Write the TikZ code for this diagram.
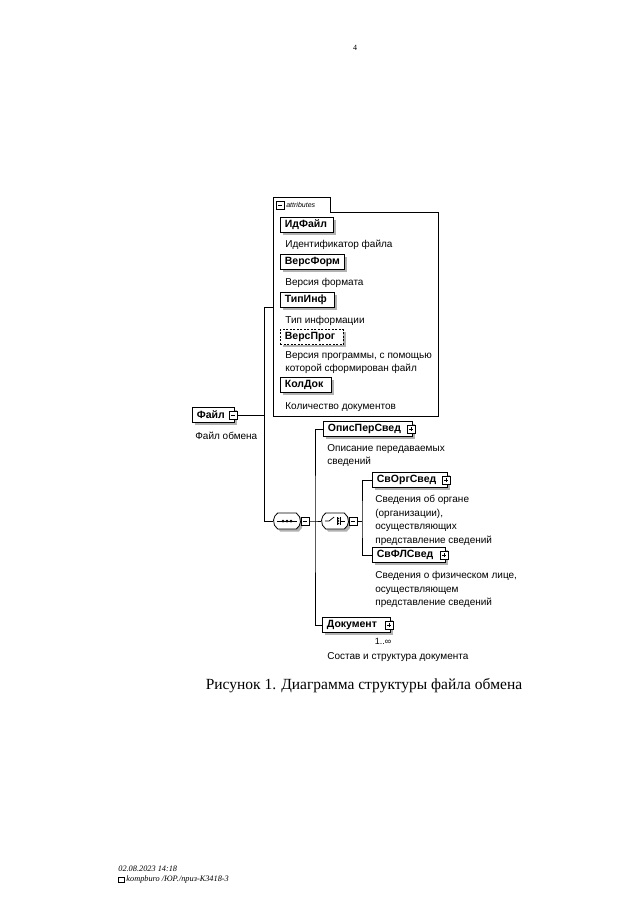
\documentclass[tikz,border=0pt]{standalone}
\usepackage{fontspec}
\setmainfont{Liberation Serif}
\newfontfamily\diafont{Liberation Sans}
\usetikzlibrary{shadows,shapes.misc}

\tikzset{
  elem/.style={draw, line width=0.8pt, fill=white, anchor=west,
    font=\diafont\bfseries\fontsize{10.5}{12}\selectfont,
    text width=#1, align=left, inner xsep=4.5pt, inner ysep=0pt, minimum height=15pt,
    drop shadow={shadow xshift=2.5pt, shadow yshift=-2.5pt, fill=gray!60, opacity=1}},
  note/.style={anchor=north west, font=\diafont\fontsize{10}{13.5}\selectfont,
    align=left, inner sep=0pt},
  minusbox/.style={draw, line width=0.6pt, fill=white, minimum size=8pt, inner sep=0pt,
    path picture={\draw ([xshift=1.8pt]path picture bounding box.west)
      -- ([xshift=-1.8pt]path picture bounding box.east);}},
  plusbox/.style={minusbox,
    path picture={\draw ([xshift=1.8pt]path picture bounding box.west)
      -- ([xshift=-1.8pt]path picture bounding box.east);
      \draw ([yshift=-1.8pt]path picture bounding box.north)
      -- ([yshift=1.8pt]path picture bounding box.south);}},
  compositor/.style={draw, line width=0.8pt, fill=white, rounded rectangle,
    rounded rectangle arc length=110,
    minimum width=27pt, minimum height=16pt, inner sep=0pt,
    drop shadow={shadow xshift=2.5pt, shadow yshift=-2.5pt, fill=gray!60, opacity=1}}
}

\begin{document}
\begin{tikzpicture}[x=1pt,y=-1pt,line width=0.7pt]
  % Page
  \useasboundingbox (0,0) rectangle (640,918);
  \fill[white] (0,0) rectangle (640,918);
  \node[font=\fontsize{8}{10}\selectfont] (pagenum) at (355,48) {4};

  % Attributes group
  \node[minimum width=165pt, minimum height=204pt, anchor=north west, inner sep=0pt] (attr) at (273,212) {};
  \coordinate (tabtop) at (330,197);
  \draw (attr.south west) |- (tabtop) |- (attr.north east) |- (attr.south west);
  \node[minusbox] (attrexp) at (280,205) {};
  \node[anchor=west, font=\diafont\itshape\fontsize{7}{8}\selectfont, inner sep=0pt] (attrtitle) at (286,205) {attributes};

  \node[elem=44pt] (idfile) at (280,225) {ИдФайл};
  \node[note] (idfilenote) at (285,240) {Идентификатор файла};
  \node[elem=55pt] (versform) at (280,262) {ВерсФорм};
  \node[note] (versformnote) at (285,278) {Версия формата};
  \node[elem=45pt] (tipinf) at (280,300) {ТипИнф};
  \node[note] (tipinfnote) at (285,316) {Тип информации};
  \node[elem=54pt, dashed, dash pattern=on 2pt off 1.5pt] (versprog) at (280,337) {ВерсПрог};
  \node[note] (versprognote) at (285,351) {Версия программы, с помощью\\которой сформирован файл};
  \node[elem=42pt] (koldok) at (280,385) {КолДок};
  \node[note] (koldoknote) at (285,402) {Количество документов};

  % Root element
  \node[elem=33pt] (file) at (192,415) {Файл};
  \node[minusbox] (fileexp) at ([xshift=-2pt]file.east) {};
  \node[note] (filenote) at (195,432) {Файл обмена};

  % Sequence
  \node[compositor] (seq) at (287,521) {};
  \draw ([xshift=4pt]seq.west) -- ([xshift=-4pt]seq.east);
  \foreach \dx in {-4,0,4}
    \fill ([xshift=\dx pt]seq.center) circle (1.5pt);
  \node[minusbox] (seqexp) at ([xshift=4pt]seq.east) {};

  % Choice
  \node[compositor] (choice) at (335,521) {};
  \draw ([xshift=4pt]choice.west) -- ++(4,0) -- ++(5,-4);
  \draw ([xshift=2pt]choice.center) ++(0,-4) -- ++(0,8);
  \draw ([xshift=5pt]choice.center) ++(0,-4) -- ++(0,8);
  \foreach \dy in {-2.5,0,2.5}
    \fill ([xshift=3.5pt,yshift=\dy pt]choice.center) circle (0.8pt);
  \draw ([xshift=5pt]choice.center) -- ([xshift=-4pt]choice.east);
  \node[minusbox] (choiceexp) at ([xshift=4pt]choice.east) {};

  % Child elements
  \node[elem=80pt] (opis) at (323,429) {ОписПерСвед};
  \node[plusbox] (opisexp) at ([xshift=-2pt]opis.east) {};
  \node[note] (opisnote) at (327,444) {Описание передаваемых\\сведений};

  \node[elem=66pt] (svorg) at (372,480) {СвОргСвед};
  \node[plusbox] (svorgexp) at ([xshift=-2pt]svorg.east) {};
  \node[note] (svorgnote) at (375,495) {Сведения об органе\\(организации),\\осуществляющих\\представление сведений};

  \node[elem=64pt] (svfl) at (372,555) {СвФЛСвед};
  \node[plusbox] (svflexp) at ([xshift=-2pt]svfl.east) {};
  \node[note] (svflnote) at (375,571) {Сведения о физическом лице,\\осуществляющем\\представление сведений};

  \node[elem=59pt] (doc) at (322,625) {Документ};
  \node[plusbox] (docexp) at ([xshift=-2pt]doc.east) {};
  \node[font=\diafont\fontsize{9}{10}\selectfont, inner sep=0pt] (docmult) at (383,641) {1..∞};
  \node[note] (docnote) at (327,652) {Состав и структура документа};

  % Connectors
  \coordinate (attrjoin) at (264,307);
  \coordinate (busA) at (264,521);
  \coordinate (busB) at (315,521);
  \coordinate (busC) at (362,521);
  \draw (fileexp.east) -- (fileexp.east -| busA);
  \draw (attrjoin -| attr.west) -- (attrjoin) -- (busA) -- (seq.west);
  \draw (seqexp.east) -- (busB) -- (choice.west);
  \draw (opis.west) -| (busB) |- (doc.west);
  \draw (choiceexp.east) -- (busC);
  \draw (svorg.west) -| (busC) |- (svfl.west);

  % Caption and footer
  \node[font=\fontsize{15.5}{18}\selectfont] (caption) at (364,686) {Рисунок 1. Диаграмма структуры файла обмена};
  \node[anchor=north west, font=\itshape\fontsize{8.3}{10}\selectfont, align=left, inner sep=0pt] (footer) at (118,866)
    {02.08.2023 14:18\\{\setlength\fboxsep{0.6pt}\setlength\fboxrule{0.4pt}\fbox{\rule{0pt}{4pt}\hspace{4pt}}} kompburo /ЮР./приз-К3418-3};
\end{tikzpicture}
\end{document}
